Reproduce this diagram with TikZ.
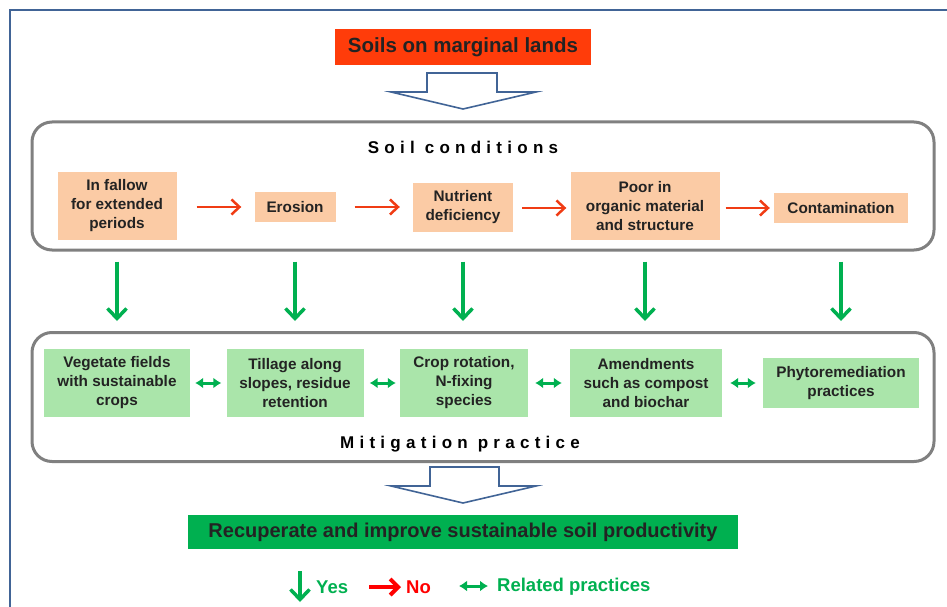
\documentclass[tikz,border=0pt]{standalone}
\usepackage{fontspec}
\setmainfont{Liberation Sans}
\newfontfamily\spacedfont[LetterSpace=31]{Liberation Sans}
\usetikzlibrary{arrows.meta}
\definecolor{titlered}{RGB}{255,60,10}
\definecolor{peach}{RGB}{251,203,165}
\definecolor{mintgreen}{RGB}{170,229,170}
\definecolor{leafgreen}{RGB}{0,176,80}
\definecolor{arrowred}{RGB}{240,60,20}
\definecolor{blockblue}{RGB}{65,100,150}
\definecolor{panelgray}{RGB}{128,128,128}
\definecolor{inkdark}{RGB}{35,35,35}
\begin{document}
\begin{tikzpicture}[x=1pt,y=-1pt,
  cond/.style={fill=peach, align=center, inner sep=0pt, text=inkdark, font=\fontsize{15.3}{19}\selectfont\bfseries},
  mit/.style={fill=mintgreen, align=center, inner sep=0pt, text=inkdark, font=\fontsize{15.3}{19}\selectfont\bfseries},
  panel/.style={draw=panelgray, line width=3pt, rounded corners=20pt, minimum width=902pt},
  heading/.style={font=\fontsize{17}{20}\spacedfont\bfseries},
  hollow/.style={draw=blockblue, line width=1.6pt, fill=white, line join=miter},
  yesarrow/.style={draw=leafgreen, line width=3.5pt, -{Straight Barb[length=10pt, width=19pt]}},
  noarrow/.style={draw=arrowred, line width=2.5pt, -{Straight Barb[length=8pt, width=15pt]}},
  relarrow/.style={draw=leafgreen, line width=3pt, {Latex[length=8pt, width=11pt]}-{Latex[length=8pt, width=11pt]}}]
\useasboundingbox (0,0) rectangle (947,607);
% page frame
\draw[blockblue, line width=2pt] (10,607) -- (10,10) -- (947,10);

\draw (463, 47) node[fill=titlered, text=inkdark, minimum width=256pt, minimum height=36pt, font=\fontsize{20.5}{23}\selectfont\bfseries] (top) {Soils on marginal lands};
\draw[hollow] (427,73) -- (497,73) -- (497,92) -- (536,92) -- (463,109) -- (391,92) -- (427,92) -- cycle;

% soil conditions
\draw (483, 186) node[panel, minimum height=128pt] (condbox) {};
\draw (463, 147) node[heading] (condtitle) {Soil conditions};
\draw (117, 206) node[cond, minimum width=119pt, minimum height=68pt] (c1) {In fallow\\for extended\\periods};
\draw (295, 207) node[cond, minimum width=81pt, minimum height=30pt] (c2) {Erosion};
\draw (463, 207) node[cond, minimum width=100pt, minimum height=49pt] (c3) {Nutrient\\deficiency};
\draw (645, 206) node[cond, minimum width=149pt, minimum height=68pt] (c4) {Poor in\\organic material\\and structure};
\draw (841, 208) node[cond, minimum width=134pt, minimum height=30pt] (c5) {Contamination};
\draw[noarrow, shorten <=20pt, shorten >=13pt] (c1.east |- c2) -- (c2);
\draw[noarrow, shorten <=19pt, shorten >=13pt] (c2) -- (c3.west |- c2);
\draw[noarrow, shorten <=9pt, shorten >=4pt] (c3.east |- c5) -- (c4.west |- c5);
\draw[noarrow, shorten <=6pt, shorten >=4pt] (c4.east |- c5) -- (c5);

% mitigation practice
\draw (483, 397) node[panel, minimum height=129pt] (mitbox) {};
\draw (460, 444) node[heading] (mittitle) {Mitigation practice};
\draw (117, 383) node[mit, minimum width=146pt, minimum height=68pt] (m1) {Vegetate fields\\with sustainable\\crops};
\draw (295, 383) node[mit, minimum width=137pt, minimum height=68pt] (m2) {Tillage along\\slopes, residue\\retention};
\draw (464, 383) node[mit, minimum width=128pt, minimum height=68pt] (m3) {Crop rotation,\\N-fixing\\species};
\draw (646, 383) node[mit, minimum width=152pt, minimum height=68pt] (m4) {Amendments\\such as compost\\and biochar};
\draw (841, 383) node[mit, minimum width=156pt, minimum height=50pt] (m5) {Phytoremediation\\practices};
\draw[relarrow, shorten <=5pt, shorten >=5pt] (m1) -- (m2);
\draw[relarrow, shorten <=6pt, shorten >=4pt] (m2) -- (m3);
\draw[relarrow, shorten <=7pt, shorten >=8pt] (m3) -- (m4);
\draw[relarrow, shorten <=8pt, shorten >=7pt] (m4) -- (m5);

% yes arrows between the panels
\draw[yesarrow, shorten <=10pt, shorten >=10pt] (c1 |- condbox.south) -- (c1 |- mitbox.north);
\draw[yesarrow, shorten <=10pt, shorten >=10pt] (c2 |- condbox.south) -- (c2 |- mitbox.north);
\draw[yesarrow, shorten <=10pt, shorten >=10pt] (c3 |- condbox.south) -- (c3 |- mitbox.north);
\draw[yesarrow, shorten <=10pt, shorten >=10pt] (c4 |- condbox.south) -- (c4 |- mitbox.north);
\draw[yesarrow, shorten <=10pt, shorten >=10pt] (c5 |- condbox.south) -- (c5 |- mitbox.north);

\draw[hollow] (430,467) -- (499,467) -- (499,486) -- (536,486) -- (463,503) -- (391,486) -- (430,486) -- cycle;
\draw (463, 532) node[fill=leafgreen, text=inkdark, minimum width=550pt, minimum height=34pt, font=\fontsize{20}{23}\selectfont\bfseries] (goal) {Recuperate and improve sustainable soil productivity};

% legend
\coordinate (ytop) at (300,571);
\coordinate (ybot) at (300,602);
\draw[yesarrow] (ytop) -- (ybot);
\draw (316, 587) node[anchor=west, inner sep=0pt, text=leafgreen, font=\fontsize{18.5}{21}\selectfont\bfseries] (yes) {Yes};
\coordinate (nleft) at (369,587);
\coordinate (nright) at (401,587);
\draw[noarrow, draw=red, line width=4pt, -{Straight Barb[length=8pt, width=16pt]}] (nleft) -- (nright);
\draw (406, 587) node[anchor=west, inner sep=0pt, text=red, font=\fontsize{18.5}{21}\selectfont\bfseries] (no) {No};
\coordinate (rleft) at (459,586);
\coordinate (rright) at (488,586);
\draw[relarrow] (rleft) -- (rright);
\draw (497, 587) node[anchor=west, inner sep=0pt, text=leafgreen, font=\fontsize{18.5}{21}\selectfont\bfseries] (rel) {Related practices};
\end{tikzpicture}
\end{document}
